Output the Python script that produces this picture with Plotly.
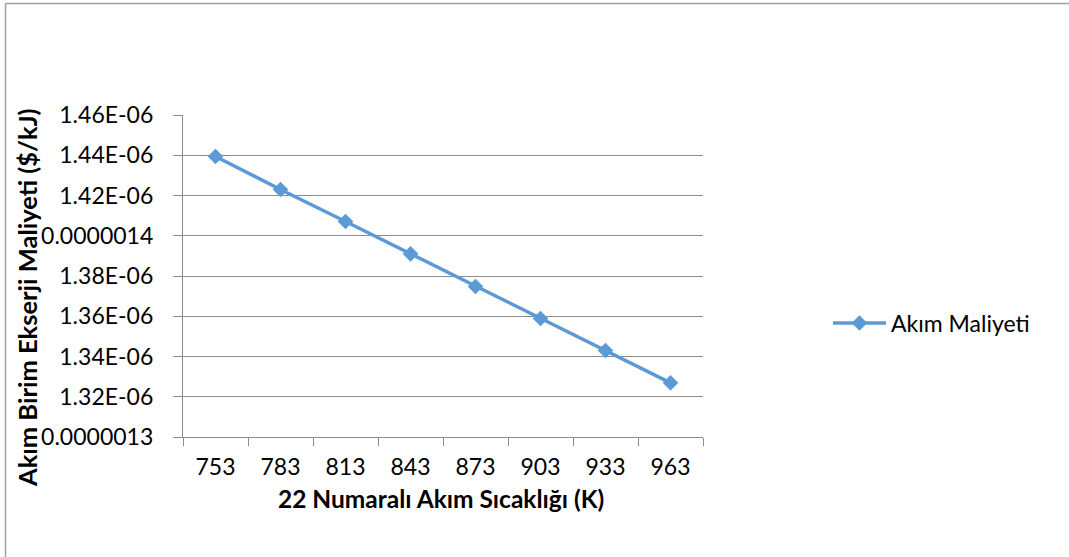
import plotly.graph_objects as go

# Stream 22 temperature (K) and unit exergy cost of the stream ($/kJ)
temperatures = ["753", "783", "813", "843", "873", "903", "933", "963"]
unit_cost = [1.4394e-6, 1.4230e-6, 1.4071e-6, 1.3910e-6,
             1.3748e-6, 1.3589e-6, 1.3430e-6, 1.3269e-6]

y_tick_values = [1.30e-6, 1.32e-6, 1.34e-6, 1.36e-6, 1.38e-6,
                 1.40e-6, 1.42e-6, 1.44e-6, 1.46e-6]
y_tick_labels = ["0.0000013", "1.32E-06", "1.34E-06", "1.36E-06", "1.38E-06",
                 "0.0000014", "1.42E-06", "1.44E-06", "1.46E-06"]

series_name = "Akım Maliyeti"
x_title = "22 Numaralı Akım Sıcaklığı (K)"
y_title = "Akım Birim Ekserji Maliyeti ($/kJ)"

FONT = "Lato"
BLUE = "#5B9BD5"
GRID = "#8c8c8c"
W, H = 1069, 557
ML, MR, MT, MB = 183, 366, 115, 120
PW, PH = W - ML - MR, H - MT - MB


def px_to_paper(px, py):
    return (px - ML) / PW, (H - MB - py) / PH


fig = go.Figure()
fig.add_trace(go.Scatter(
    x=temperatures, y=unit_cost, name=series_name,
    mode="lines+markers",
    line=dict(color=BLUE, width=3.5),
    marker=dict(symbol="diamond", size=12, color=BLUE),
))

# chart-area frame (top and left edges)
x0, y0 = px_to_paper(5.5, 3.5)
x1, y1 = px_to_paper(W + 2, H + 2)
fig.add_shape(type="line", xref="paper", yref="paper", x0=x0, x1=x1, y0=y0, y1=y0,
              line=dict(color="#a0a0a0", width=1.5))
fig.add_shape(type="line", xref="paper", yref="paper", x0=x0, x1=x0, y0=y0, y1=y1,
              line=dict(color="#a0a0a0", width=1.5))

tx, ty = px_to_paper(441, 498)
fig.add_annotation(text=f"<b>{x_title}</b>", xref="paper", yref="paper", x=tx, y=ty,
                   xanchor="center", yanchor="middle", showarrow=False,
                   font=dict(family=FONT, size=24.5, color="#000000"))
ax, ay = px_to_paper(27, 298)
fig.add_annotation(text=f"<b>{y_title}</b>", xref="paper", yref="paper", x=ax, y=ay,
                   xanchor="center", yanchor="middle", textangle=-90, showarrow=False,
                   font=dict(family=FONT, size=25.5, color="#000000"))

lx, ly = px_to_paper(828, 323)
fig.update_layout(
    width=W, height=H,
    margin=dict(l=ML, r=MR, t=MT, b=MB),
    paper_bgcolor="white", plot_bgcolor="white",
    font=dict(family=FONT, size=23, color="#000000"),
    showlegend=True,
    legend=dict(x=lx, y=ly, xanchor="left", yanchor="middle", itemwidth=53,
                font=dict(family=FONT, size=23, color="#000000"),
                bgcolor="rgba(0,0,0,0)"),
    xaxis=dict(
        type="category", range=[-0.5, 7.5],
        showgrid=False, showline=True, linecolor=GRID, linewidth=1.3,
        ticks="outside", tickson="boundaries", ticklen=8, tickcolor=GRID,
        tickwidth=1.3, ticklabelstandoff=9, zeroline=False,
    ),
    yaxis=dict(
        range=[1.30e-6, 1.46e-6],
        tickvals=y_tick_values, ticktext=y_tick_labels,
        showgrid=True, gridcolor=GRID, gridwidth=1.3,
        showline=True, linecolor=GRID, linewidth=1.3,
        ticks="outside", ticklen=9, tickcolor=GRID, tickwidth=1.3,
        ticklabelstandoff=15, zeroline=False,
    ),
)

fig.write_html("out.html")
